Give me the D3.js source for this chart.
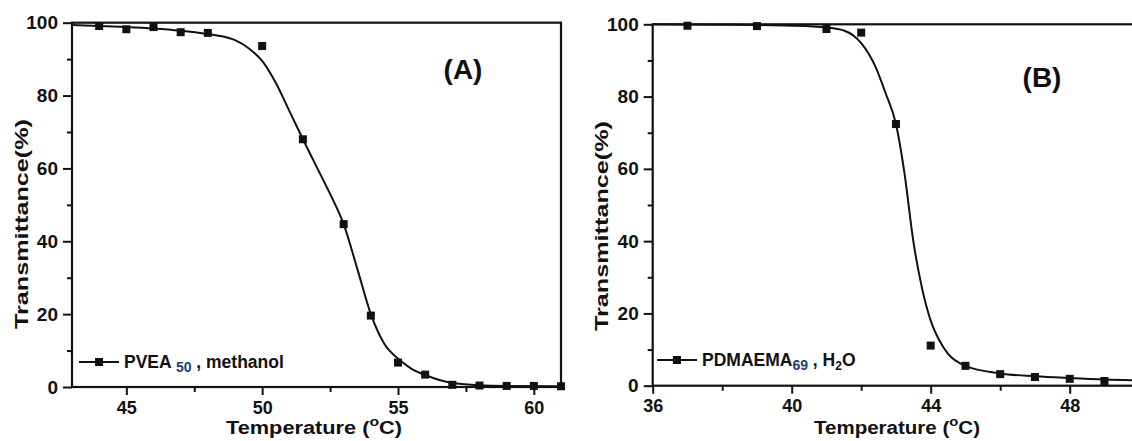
<!DOCTYPE html>
<html>
<head>
<meta charset="utf-8">
<script src="https://cdn.jsdelivr.net/npm/d3@7"></script>
<style>
  body { margin: 0; background: #fff; }
  svg { display: block; font-family: "Liberation Sans", Arial, sans-serif; font-weight: bold; }
</style>
</head>
<body>
<svg id="chart" width="1132" height="441"></svg>
<script>
// panel A: PVEA50 in methanol
const tempA  = [44, 45, 46, 47, 48, 50, 51.5, 53, 54, 55, 56, 57, 58, 59, 60, 61];
const transA = [99.1, 98.2, 98.8, 97.4, 97.2, 93.6, 68.0, 44.7, 19.6, 6.7, 3.4, 0.6, 0.4, 0.3, 0.3, 0.2];
const fitTempA  = [43, 44, 45, 46, 47, 48, 48.5, 49, 49.5, 50, 50.5, 51, 51.5, 52, 52.5, 53, 53.5, 54, 54.5, 55, 55.5, 56, 57, 58, 59, 61];
const fitTransA = [99.4, 99.1, 98.8, 98.4, 97.8, 96.9, 96.3, 95.2, 93.0, 89.5, 83.5, 75.8, 68.0, 60.5, 53.0, 44.7, 32.5, 20.0, 11.8, 7.8, 5.0, 3.3, 1.1, 0.5, 0.3, 0.2];
const xTicksA = [45, 50, 55, 60];
const xMinorA = [47.5, 52.5, 57.5];

// panel B: PDMAEMA69 in water
const tempB  = [37, 39, 41, 42, 43, 44, 45, 46, 47, 48, 49];
const transB = [99.6, 99.5, 98.7, 97.7, 72.4, 11.1, 5.5, 3.2, 2.4, 1.9, 1.3];
const fitTempB  = [36, 38, 40, 41, 41.5, 42, 42.4, 42.7, 43, 43.25, 43.5, 43.75, 44, 44.25, 44.5, 45, 46, 47, 48, 49, 50];
const fitTransB = [100, 99.9, 99.6, 99.1, 98.3, 94.8, 88.5, 81.0, 72.4, 58.5, 40.0, 27.0, 18.0, 12.5, 8.8, 5.5, 3.4, 2.6, 2.1, 1.7, 1.5];
const xTicksB = [36, 40, 44, 48];
const xMinorB = [38, 42, 46];

const yTicks = [0, 20, 40, 60, 80, 100];
const yMinor = [10, 30, 50, 70, 90];

const svg = d3.select("#chart");
svg.append("rect").attr("width", 1132).attr("height", 441).attr("fill", "#fff");

function drawPanel(p) {
    const x = d3.scaleLinear().domain(p.xDomain).range([p.left, p.right]);
    const y = d3.scaleLinear().domain([0, 100]).range([p.bottom, p.top]);
    const g = svg.append("g");

    // minor ticks first, then major ticks with labels
    g.append("g")
        .attr("transform", "translate(0," + p.bottom + ")")
        .call(d3.axisBottom(x).tickValues(p.xMinor).tickSize(5).tickFormat(""))
        .call(a => a.select(".domain").remove());
    g.append("g")
        .attr("transform", "translate(" + p.left + ",0)")
        .call(d3.axisLeft(y).tickValues(yMinor).tickSize(5).tickFormat(""))
        .call(a => a.select(".domain").remove());

    const xAxis = g.append("g")
        .attr("transform", "translate(0," + p.bottom + ")")
        .call(d3.axisBottom(x).tickValues(p.xTicks).tickSize(8).tickPadding(p.xPad).tickFormat(d3.format("d")));
    xAxis.select(".domain").remove();
    xAxis.selectAll("text").attr("font-size", 18).attr("font-family", "Liberation Sans, Arial, sans-serif")
        .attr("font-weight", "bold").attr("fill", "#111");

    const yAxis = g.append("g")
        .attr("transform", "translate(" + p.left + ",0)")
        .call(d3.axisLeft(y).tickValues(yTicks).tickSize(9).tickPadding(5));
    yAxis.select(".domain").remove();
    yAxis.selectAll("text").attr("font-size", 19).attr("font-family", "Liberation Sans, Arial, sans-serif")
        .attr("font-weight", "bold").attr("fill", "#111");

    g.selectAll(".tick line").attr("stroke", "#111").attr("stroke-width", 2);

    // frame
    g.append("rect")
        .attr("x", p.left).attr("y", p.top)
        .attr("width", p.right - p.left).attr("height", p.bottom - p.top)
        .attr("fill", "none").attr("stroke", "#111").attr("stroke-width", 2.2);

    // fitted curve
    const line = d3.line()
        .x(d => x(d[0])).y(d => y(d[1]))
        .curve(d3.curveMonotoneX);
    g.append("path")
        .datum(d3.zip(p.fitX, p.fitY))
        .attr("d", line)
        .attr("fill", "none").attr("stroke", "#111").attr("stroke-width", 2);

    // measured points
    g.selectAll("rect.pt").data(d3.zip(p.dataX, p.dataY)).enter()
        .append("rect").attr("class", "pt")
        .attr("x", d => x(d[0]) - 4).attr("y", d => y(d[1]) - 4)
        .attr("width", 8).attr("height", 8).attr("fill", "#111");

    // legend
    const ly = p.legendY;
    g.append("line").attr("x1", p.legendX).attr("x2", p.legendX + 40)
        .attr("y1", ly).attr("y2", ly).attr("stroke", "#111").attr("stroke-width", 2);
    g.append("rect").attr("x", p.legendX + 16).attr("y", ly - 4)
        .attr("width", 8).attr("height", 8).attr("fill", "#111");
    const lt = g.append("text").attr("x", p.legendX + 45).attr("y", ly + 6)
        .attr("font-size", 17.5).attr("fill", "#111");
    lt.append("tspan").text(p.name);
    lt.append("tspan").attr("dy", 4).attr("font-size", 14).attr("fill", "#1d3f7a").text(p.sub);
    lt.append("tspan").attr("dy", -4).text(p.solvent);
    if (p.solventSub) {
        lt.append("tspan").attr("dy", 4).attr("font-size", 12).text(p.solventSub);
        lt.append("tspan").attr("dy", -4).text(p.solventEnd);
    }

    // panel tag
    g.append("text").attr("x", p.tagX).attr("y", p.tagY)
        .attr("text-anchor", "middle").attr("font-size", 28).attr("fill", "#111").text(p.tag);

    // axis titles
    const xt = g.append("text").attr("x", p.xTitleX).attr("y", 434)
        .attr("text-anchor", "middle").attr("font-size", 18).attr("fill", "#111")
        .attr("textLength", p.xTitleLen).attr("lengthAdjust", "spacingAndGlyphs");
    xt.append("tspan").text("Temperature (");
    xt.append("tspan").attr("dy", -8).attr("font-size", 13).text("o");
    xt.append("tspan").attr("dy", 8).text("C)");

    g.append("text")
        .attr("transform", "translate(" + p.yTitleX + "," + p.yTitleY + ") rotate(-90)")
        .attr("text-anchor", "middle").attr("font-size", 19).attr("fill", "#111")
        .attr("textLength", 210).attr("lengthAdjust", "spacingAndGlyphs")
        .text("Transmittance(%)");
}

drawPanel({
    xDomain: [43, 61], left: 72, right: 561, top: 22.7, bottom: 387,
    xTicks: xTicksA, xMinor: xMinorA, xPad: 6,
    dataX: tempA, dataY: transA, fitX: fitTempA, fitY: fitTransA,
    legendX: 79, legendY: 362, name: "PVEA ", sub: "50", solvent: " , methanol",
    tag: "(A)", tagX: 463, tagY: 79,
    xTitleX: 314, xTitleLen: 176, yTitleX: 28, yTitleY: 224
});

drawPanel({
    xDomain: [36, 50], left: 652.7, right: 1139.2, top: 24.3, bottom: 385.7,
    xTicks: xTicksB, xMinor: xMinorB, xPad: 6,
    dataX: tempB, dataY: transB, fitX: fitTempB, fitY: fitTransB,
    legendX: 657, legendY: 360, name: "PDMAEMA", sub: "69", solvent: " , H", solventSub: "2", solventEnd: "O",
    tag: "(B)", tagX: 1042, tagY: 87,
    xTitleX: 897, xTitleLen: 166, yTitleX: 608, yTitleY: 226
});
</script>
</body>
</html>
